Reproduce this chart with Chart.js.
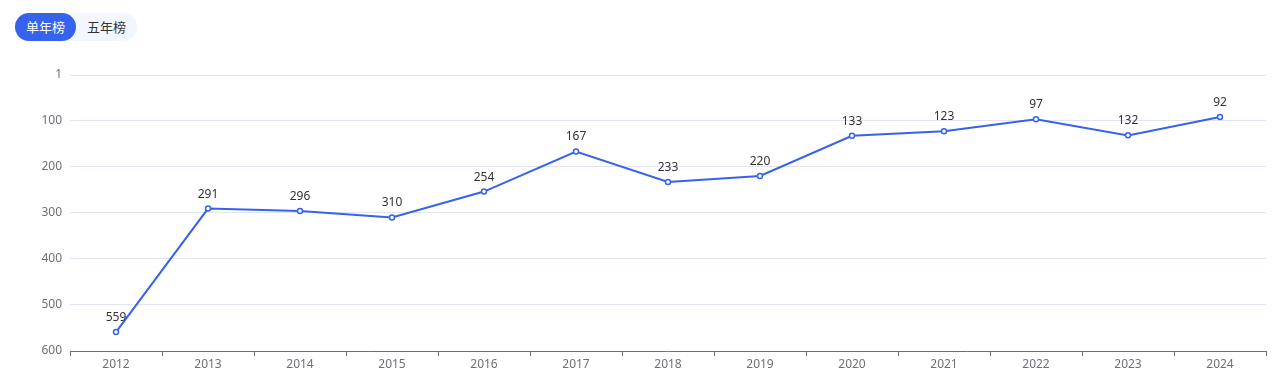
<!DOCTYPE html>
<html>
<head>
<meta charset="utf-8">
<script src="https://cdn.jsdelivr.net/npm/chart.js@4/dist/chart.umd.min.js"></script>
<style>
  html, body { margin: 0; padding: 0; background: #fff; }
  body { width: 1282px; height: 385px; position: relative; overflow: hidden;
         font-family: "Noto Sans CJK SC", "Noto Sans", sans-serif; }
  .tabs { position: absolute; left: 15px; top: 13px; height: 28px; width: 122px;
          background: #f2f6ff; border-radius: 14px; display: flex; }
  .tab { height: 28px; line-height: 28px; font-size: 13px; color: #333; padding: 0 11px; border-radius: 14px; }
  .tab.on { background: #3662ec; color: #fff; }
  #wrap { position: absolute; left: 0; top: 0; width: 1282px; height: 385px; }
</style>
</head>
<body>
<div class="tabs"><div class="tab on">单年榜</div><div class="tab">五年榜</div></div>
<div id="wrap"><canvas id="chart"></canvas></div>
<script>
// ranking per year (lower is better, axis reversed)
const years = ['2012', '2013', '2014', '2015', '2016', '2017', '2018', '2019', '2020', '2021', '2022', '2023', '2024'];
const ranks = [559, 291, 296, 310, 254, 167, 233, 220, 133, 123, 97, 132, 92];
const yTicks = [1, 100, 200, 300, 400, 500, 600];

const blue = '#3662ec';
const axisGray = '#6e7079';
const fontFamily = '"Noto Sans", "Noto Sans CJK SC", sans-serif';

// draw the value above every point
const valueLabels = {
    id: 'valueLabels',
    afterDatasetsDraw(chart) {
        const ctx = chart.ctx;
        const meta = chart.getDatasetMeta(0);
        ctx.save();
        ctx.font = '12px ' + fontFamily;
        ctx.fillStyle = '#333';
        ctx.textAlign = 'center';
        ctx.textBaseline = 'alphabetic';
        meta.data.forEach((pt, i) => {
            ctx.fillText(String(ranks[i]), pt.x, pt.y - 11);
        });
        ctx.restore();
    }
};

new Chart(document.getElementById('chart'), {
    type: 'line',
    data: {
        labels: years,
        datasets: [{
            data: ranks,
            borderColor: blue,
            borderWidth: 2,
            pointRadius: 2.5,
            pointBorderWidth: 1.5,
            pointBackgroundColor: '#fff',
            pointBorderColor: blue,
            tension: 0
        }]
    },
    options: {
        responsive: true,
        maintainAspectRatio: false,
        animation: false,
        layout: { padding: { top: 75, right: 16, bottom: 0, left: 0 } },
        plugins: { legend: { display: false }, tooltip: { enabled: false } },
        scales: {
            x: {
                offset: true,
                grid: { display: true, drawOnChartArea: false, offset: true, tickLength: 5, color: axisGray },
                border: { display: true, color: axisGray },
                ticks: { color: axisGray, padding: 1, font: { size: 12, family: fontFamily } },
                afterFit(scale) { scale.height = 34; }
            },
            y: {
                reverse: true,
                min: 1,
                max: 600,
                afterBuildTicks(scale) { scale.ticks = yTicks.map(v => ({ value: v })); },
                grid: { color: '#e0e6f1', drawTicks: false },
                border: { display: false },
                ticks: { color: axisGray, padding: 8, font: { size: 12, family: fontFamily } },
                afterFit(scale) { scale.width = 70; }
            }
        }
    },
    plugins: [valueLabels]
});
</script>
</body>
</html>
